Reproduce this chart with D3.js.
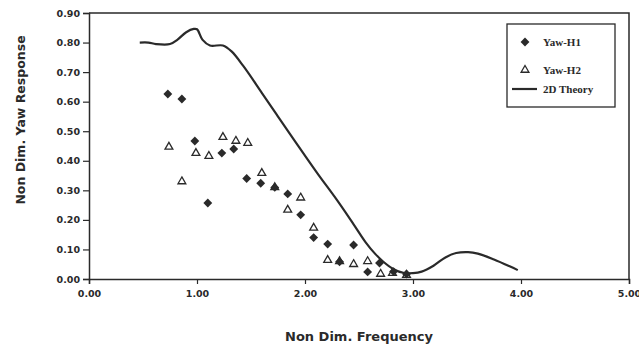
<!DOCTYPE html>
<html>
<head>
<meta charset="utf-8">
<script src="https://cdn.jsdelivr.net/npm/d3@7"></script>
<style>
  body { margin: 0; background: #fff; }
  svg text { fill: #2a2a2a; }
</style>
</head>
<body>
<div id="chart"></div>
<script>
// Yaw-H1 measurements (filled diamonds)
const h1Freq = [0.73, 0.86, 0.98, 1.10, 1.23, 1.34, 1.46, 1.59, 1.72, 1.84, 1.96, 2.08, 2.21, 2.32, 2.45, 2.58, 2.69, 2.82, 2.94];
const h1Resp = [0.626, 0.609, 0.467, 0.257, 0.426, 0.44, 0.34, 0.324, 0.31, 0.288, 0.217, 0.14, 0.118, 0.058, 0.115, 0.024, 0.054, 0.025, 0.017];

// Yaw-H2 measurements (open triangles)
const h2Freq = [0.74, 0.86, 0.99, 1.11, 1.24, 1.36, 1.47, 1.60, 1.72, 1.84, 1.96, 2.08, 2.21, 2.32, 2.45, 2.58, 2.70, 2.81, 2.94];
const h2Resp = [0.447, 0.33, 0.426, 0.416, 0.48, 0.467, 0.46, 0.358, 0.31, 0.234, 0.275, 0.173, 0.064, 0.06, 0.05, 0.06, 0.017, 0.02, 0.013];

// 2D theory curve
const thFreq = [0.47, 0.55, 0.62, 0.75, 0.82, 0.90, 0.97, 1.00, 1.05, 1.12, 1.24, 1.32, 1.43, 1.60, 1.74, 1.90, 2.11, 2.30, 2.45, 2.56, 2.65, 2.72, 2.82, 2.91, 3.00, 3.08, 3.19, 3.30, 3.40, 3.51, 3.60, 3.75, 3.90, 3.97];
const thResp = [0.80, 0.80, 0.795, 0.795, 0.81, 0.835, 0.846, 0.845, 0.81, 0.79, 0.79, 0.77, 0.72, 0.63, 0.555, 0.47, 0.36, 0.265, 0.185, 0.125, 0.085, 0.06, 0.033, 0.021, 0.02, 0.025, 0.045, 0.073, 0.088, 0.091, 0.086, 0.066, 0.042, 0.03];

const xTicks = [0, 1, 2, 3, 4, 5];
const yTicks = [0, 0.1, 0.2, 0.3, 0.4, 0.5, 0.6, 0.7, 0.8, 0.9];
const legendNames = ["Yaw-H1", "Yaw-H2", "2D Theory"];

const width = 639, height = 346;
const margin = { top: 13, right: 10, bottom: 67, left: 89 };
const ink = "#2a2a2a";

const svg = d3.select("#chart").append("svg")
    .attr("width", width)
    .attr("height", height);

const x = d3.scaleLinear().domain([0, 5]).range([margin.left, width - margin.right]);
const y = d3.scaleLinear().domain([0, 0.9]).range([height - margin.bottom, margin.top]);

// frame on top and right
svg.append("path")
    .attr("d", `M${x(0)},${y(0.9)}H${x(5)}V${y(0)}`)
    .attr("fill", "none")
    .attr("stroke", ink)
    .attr("stroke-width", 1.5);

// axes
const xAxis = svg.append("g")
    .attr("transform", `translate(0,${y(0)})`)
    .call(d3.axisBottom(x).tickValues(xTicks).tickFormat(d3.format(".2f")).tickSize(5).tickPadding(6));
const yAxis = svg.append("g")
    .attr("transform", `translate(${x(0)},0)`)
    .call(d3.axisLeft(y).tickValues(yTicks).tickFormat(d3.format(".2f")).tickSize(6).tickPadding(3));

[xAxis, yAxis].forEach(a => {
    a.select(".domain").attr("stroke", ink).attr("stroke-width", 1.5);
    a.selectAll(".tick line").attr("stroke", ink).attr("stroke-width", 1.2);
    a.selectAll(".tick text")
        .style("font-family", "DejaVu Sans")
        .style("font-weight", "bold")
        .style("font-size", "9.5px")
        .attr("fill", ink);
});

// axis titles
svg.append("text")
    .attr("x", 359)
    .attr("y", 341)
    .attr("text-anchor", "middle")
    .style("font-family", "DejaVu Sans")
    .style("font-weight", "bold")
    .style("font-size", "13px")
    .text("Non Dim. Frequency");

svg.append("text")
    .attr("transform", "translate(25,120) rotate(-90)")
    .attr("text-anchor", "middle")
    .style("font-family", "DejaVu Sans")
    .style("font-weight", "bold")
    .style("font-size", "12.5px")
    .text("Non Dim. Yaw Response");

// theory curve
const line = d3.line()
    .x((d, i) => x(thFreq[i]))
    .y((d, i) => y(thResp[i]))
    .curve(d3.curveCatmullRom.alpha(0.5));

svg.append("path")
    .datum(thResp)
    .attr("d", line)
    .attr("fill", "none")
    .attr("stroke", ink)
    .attr("stroke-width", 2.2);

const diamond = d3.symbol().type(d3.symbolDiamond2).size(50);
const triangle = d3.symbol().type(d3.symbolTriangle2).size(44);

// H2 triangles
svg.append("g").selectAll("path")
    .data(h2Resp)
    .join("path")
    .attr("transform", (d, i) => `translate(${x(h2Freq[i])},${y(d)})`)
    .attr("d", triangle)
    .attr("fill", "#fff")
    .attr("fill-opacity", 0.6)
    .attr("stroke", ink)
    .attr("stroke-width", 1.3);

// H1 diamonds
svg.append("g").selectAll("path")
    .data(h1Resp)
    .join("path")
    .attr("transform", (d, i) => `translate(${x(h1Freq[i])},${y(d)})`)
    .attr("d", diamond)
    .attr("fill", ink);

// legend
const legend = svg.append("g");
legend.append("rect")
    .attr("x", 507).attr("y", 24)
    .attr("width", 108).attr("height", 83)
    .attr("fill", "#fff")
    .attr("stroke", ink)
    .attr("stroke-width", 1.3);

const rowY = [42, 70, 89];
legend.append("path")
    .attr("transform", `translate(525,${rowY[0]})`)
    .attr("d", diamond)
    .attr("fill", ink);
legend.append("path")
    .attr("transform", `translate(525,${rowY[1]})`)
    .attr("d", triangle)
    .attr("fill", "#fff")
    .attr("stroke", ink)
    .attr("stroke-width", 1.3);
legend.append("line")
    .attr("x1", 512).attr("x2", 537)
    .attr("y1", rowY[2]).attr("y2", rowY[2])
    .attr("stroke", ink)
    .attr("stroke-width", 2.2);

legend.selectAll("text.lbl")
    .data(legendNames)
    .join("text")
    .attr("class", "lbl")
    .attr("x", 543)
    .attr("y", (d, i) => rowY[i] + 4)
    .style("font-family", "Liberation Serif")
    .style("font-weight", "bold")
    .style("font-size", "11px")
    .text(d => d);
</script>
</body>
</html>
